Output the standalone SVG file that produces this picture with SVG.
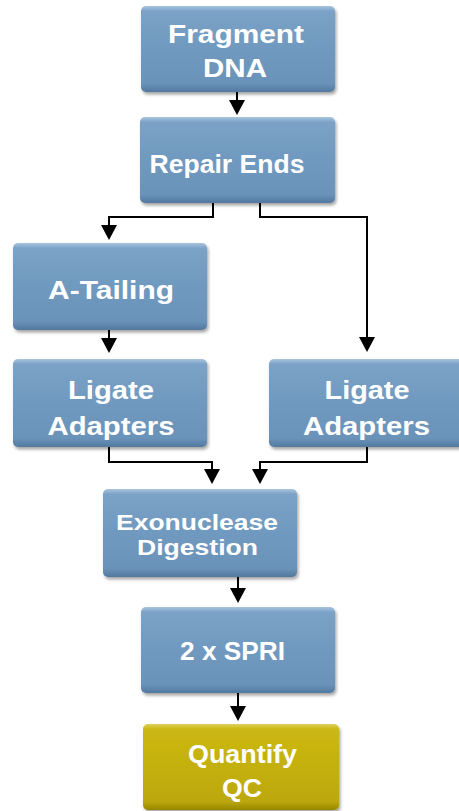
<svg xmlns="http://www.w3.org/2000/svg" width="459" height="811" viewBox="0 0 459 811">
<defs>
<linearGradient id="gb" x1="0" y1="0" x2="0" y2="1">
<stop offset="0" stop-color="#a9c4de"/>
<stop offset="0.06" stop-color="#7ba2c7"/>
<stop offset="0.5" stop-color="#7099bf"/>
<stop offset="0.9" stop-color="#6b93b9"/>
<stop offset="1" stop-color="#52789e"/>
</linearGradient>
<linearGradient id="gy" x1="0" y1="0" x2="0" y2="1">
<stop offset="0" stop-color="#e0d060"/>
<stop offset="0.06" stop-color="#cbb814"/>
<stop offset="0.5" stop-color="#c4b00a"/>
<stop offset="0.9" stop-color="#bca808"/>
<stop offset="1" stop-color="#968604"/>
</linearGradient>
<filter id="sh" x="-10%" y="-10%" width="125%" height="130%">
<feDropShadow dx="1.5" dy="2.5" stdDeviation="1.5" flood-color="#000" flood-opacity="0.35"/>
</filter>
</defs>
<style>
.box{fill:url(#gb);filter:url(#sh);}
.ybox{fill:url(#gy);filter:url(#sh);}
.t{font-family:"Liberation Sans",Arial,sans-serif;font-weight:bold;font-size:26px;fill:#fff;text-anchor:middle;}
.s{font-size:22px;}
.c{fill:none;stroke:#000;stroke-width:2;}
</style>
<g id="connectors">
<path class="c" d="M237,92 V100"/><path d="M229,100 L245,100 L237,115 Z"/>
<path class="c" d="M213,203 V217 H109 V226"/><path d="M101,225 L117,225 L109,240 Z"/>
<path class="c" d="M260,203 V217 H367 V338"/><path d="M359,337 L375,337 L367,352 Z"/>
<path class="c" d="M109,330 V339"/><path d="M101,338 L117,338 L109,353 Z"/>
<path class="c" d="M109,447 V462 H212 V470"/><path d="M204,469 L220,469 L212,484 Z"/>
<path class="c" d="M367,447 V462 H260 V470"/><path d="M252,469 L268,469 L260,484 Z"/>
<path class="c" d="M238,577 V589"/><path d="M230,588 L246,588 L238,603 Z"/>
<path class="c" d="M238,693 V707"/><path d="M230,706 L246,706 L238,721 Z"/>
</g>
<g id="n1"><rect class="box" x="141" y="6" width="194" height="86" rx="5"/>
<text class="t" x="236" y="43" textLength="136" lengthAdjust="spacingAndGlyphs">Fragment</text>
<text class="t" x="235" y="77" textLength="64" lengthAdjust="spacingAndGlyphs">DNA</text></g>
<g id="n2"><rect class="box" x="140" y="117" width="195" height="86" rx="5"/>
<text class="t" x="227" y="173" textLength="155" lengthAdjust="spacingAndGlyphs">Repair Ends</text></g>
<g id="n3"><rect class="box" x="13" y="243" width="194" height="87" rx="5"/>
<text class="t" x="111" y="299" textLength="126" lengthAdjust="spacingAndGlyphs">A-Tailing</text></g>
<g id="n4"><rect class="box" x="13" y="359" width="194" height="88" rx="5"/>
<text class="t" x="111" y="399" textLength="86" lengthAdjust="spacingAndGlyphs">Ligate</text>
<text class="t" x="111" y="435" textLength="127" lengthAdjust="spacingAndGlyphs">Adapters</text></g>
<g id="n5"><rect class="box" x="269" y="359" width="196" height="88" rx="5"/>
<text class="t" x="367" y="399" textLength="85" lengthAdjust="spacingAndGlyphs">Ligate</text>
<text class="t" x="366.5" y="435" textLength="127" lengthAdjust="spacingAndGlyphs">Adapters</text></g>
<g id="n6"><rect class="box" x="103" y="489" width="194" height="88" rx="5"/>
<text class="t s" x="197" y="530" textLength="162" lengthAdjust="spacingAndGlyphs">Exonuclease</text>
<text class="t s" x="197.5" y="555" textLength="121" lengthAdjust="spacingAndGlyphs">Digestion</text></g>
<g id="n7"><rect class="box" x="141" y="607" width="194" height="86" rx="5"/>
<text class="t" x="232.5" y="660" textLength="105" lengthAdjust="spacingAndGlyphs">2 x SPRI</text></g>
<g id="n8"><rect class="ybox" x="143" y="724" width="196" height="86" rx="5"/>
<text class="t" x="242.5" y="763" textLength="109" lengthAdjust="spacingAndGlyphs">Quantify</text>
<text class="t" x="242" y="797" textLength="40" lengthAdjust="spacingAndGlyphs">QC</text></g>
</svg>
